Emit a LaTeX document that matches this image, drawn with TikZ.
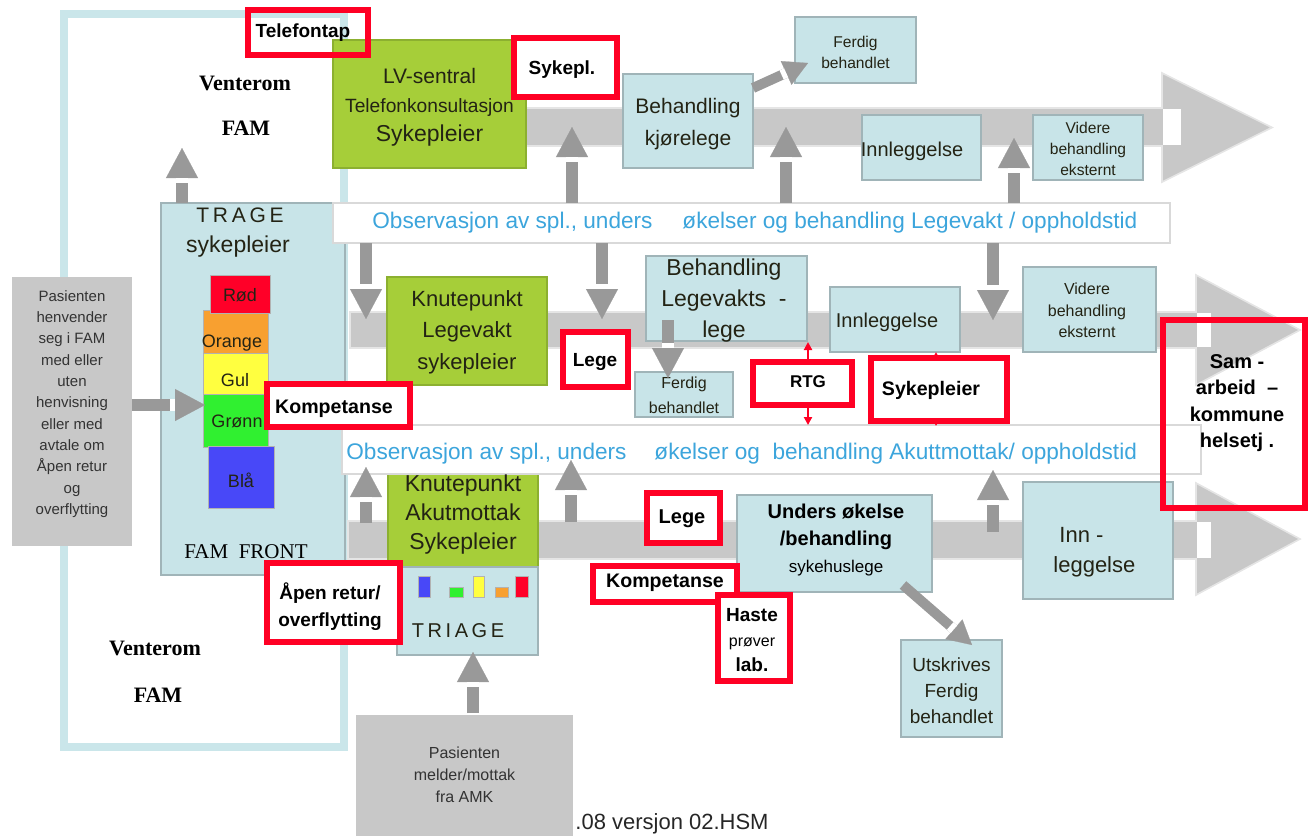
\documentclass[tikz,border=0pt]{standalone}
\usepackage{fontspec}
\setmainfont{Liberation Sans}
\newfontfamily\serifF{Liberation Serif}
\newfontfamily\spacedF[LetterSpace=18]{Liberation Sans}
\usetikzlibrary{arrows.meta,calc}
\newcommand\fsz[2]{\fontsize{#1}{#2}\selectfont}
\definecolor{lblue}{RGB}{200,228,232}
\definecolor{lbedge}{RGB}{160,180,184}
\definecolor{lgreen}{RGB}{166,206,57}
\definecolor{dgreen}{RGB}{140,176,48}
\definecolor{bandgray}{RGB}{200,200,200}
\definecolor{arrgray}{RGB}{153,153,153}
\definecolor{boxgray}{RGB}{200,200,200}
\definecolor{redb}{RGB}{255,0,36}
\definecolor{obstext}{RGB}{60,165,220}
\definecolor{frameblue}{RGB}{202,230,234}
\definecolor{cred}{RGB}{255,0,40}
\definecolor{corange}{RGB}{248,160,48}
\definecolor{cyellow}{RGB}{255,255,64}
\definecolor{cgreen}{RGB}{48,240,48}
\definecolor{cblue}{RGB}{72,72,248}
\definecolor{darktxt}{RGB}{35,35,20}
\newcommand\grar[2]{\draw[garr] #1 -- #2; \draw[white,line width=6pt] ($#2!15pt!#1$) -- ($#2!17.5pt!#1$);}
\newcommand\grars[2]{\draw[garrs] #1 -- #2; \draw[white,line width=5pt] ($#2!12pt!#1$) -- ($#2!14.5pt!#1$);}
\tikzset{
 lbbox/.style={draw=lbedge, fill=lblue, line width=1pt, inner sep=0pt},
 grbox/.style={draw=dgreen, fill=lgreen, line width=1pt, inner sep=0pt},
 gybox/.style={fill=boxgray, draw=none, inner sep=0pt},
 rbox/.style={draw=redb, line width=2.8pt, inner sep=0pt, fill=white},
 rboxo/.style={draw=redb, line width=2.8pt, inner sep=0pt},
 obsbox/.style={draw=black!15, line width=1pt, fill=white, inner sep=0pt},
 txt/.style={inner sep=0pt, align=center, text=darktxt},
 rtxt/.style={inner sep=0pt, align=center, text=black},
 cbox/.style={draw=black!30, line width=0.5pt, inner sep=0pt},
 garr/.style={draw=arrgray, line width=6pt, -{Triangle[width=16pt,length=15pt,line width=0.1pt]}},
 garrs/.style={draw=arrgray, line width=5pt, -{Triangle[width=13pt,length=12pt,line width=0.1pt]}},
 band/.style={fill=bandgray, draw=black!10, line width=0.8pt},
 redarr/.style={draw=redb, line width=1pt, -{Triangle[width=4pt,length=4pt]}},
}
\begin{document}
\begin{tikzpicture}[x=0.5pt,y=-0.5pt]
\useasboundingbox (0,0) rectangle (1309,836);
% frame
\node[draw=frameblue, line width=4pt, minimum width=140pt, minimum height=366.5pt, inner sep=0pt] (frame) at (204,380.5) {};
% bands
\path[band] (345,108) -- (1162,108) -- (1162,73) -- (1272,127.5) -- (1162,182) -- (1162,146) -- (345,146) -- cycle;
\fill[white] (1163,109) rectangle (1181,145);
\path[band] (350,312) -- (1196,312) -- (1196,275) -- (1300,330) -- (1196,385) -- (1196,348) -- (350,348) -- cycle;
\fill[white] (1197,313) rectangle (1211,347);
\path[band] (348,521) -- (1196,521) -- (1196,483) -- (1300,539) -- (1196,595) -- (1196,559) -- (348,559) -- cycle;
\fill[white] (1197,522) rectangle (1211,558);
% left structures
\node[gybox, minimum width=60pt, minimum height=134.5pt] (lgrey) at (72,411.5) {};
\node[txt, text=black!80, font={\fsz{7.5}{10.65}}] (lgreyt) at (72,404) {Pasienten\\henvender\\seg i FAM\\med eller\\uten\\henvisning\\eller med\\avtale om\\Åpen retur\\og\\overflytting};
\node[lbbox, minimum width=92pt, minimum height=186pt] (trage) at (253,389) {};
\node[txt, font={\spacedF\fsz{10.5}{12}}] (traget) at (240,215) {TRAGE};
\node[txt, font={\fsz{11.5}{13}}] (tragesp) at (238,247) {sykepleier};
\node[txt, text=black, font={\serifF\fsz{10.5}{12}}] (famfront) at (246,552) {FAM\ \ FRONT};
% colour stack
\node[cbox, fill=corange, minimum width=32.5pt, minimum height=21.5pt] (sora) at (235.5,331.5) {};
\node[cbox, fill=cyellow, minimum width=32.5pt, minimum height=20.5pt] (sgul) at (235.5,373.5) {};
\node[cbox, fill=cgreen, minimum width=32.5pt, minimum height=26.5pt] (sgro) at (235.5,420.5) {};
\node[cbox, fill=cred, minimum width=30pt, minimum height=19pt] (srod) at (240,294) {};
\node[cbox, fill=cblue, minimum width=33pt, minimum height=31pt] (sbla) at (241,477) {};
\node[txt, font={\fsz{9}{10}}] (trod) at (240,295) {Rød};
\node[txt, font={\fsz{9}{10}}] (tora) at (232,343) {Orange};
\node[txt, font={\fsz{9}{10}}] (tgul) at (235,380) {Gul};
\node[txt, font={\fsz{9}{10}}] (tgro) at (237,421) {Grønn};
\node[txt, font={\fsz{9}{10}}] (tbla) at (241,480) {Blå};
% green boxes
\node[grbox, minimum width=96.5pt, minimum height=64pt] (lv) at (429.5,104) {};
\node[txt, font={\fsz{10.5}{14.5}}] (lvt) at (429.5,107) {LV-sentral\\\fsz{9.6}{14.5}Telefonkonsultasjon\\\fsz{11.5}{15}Sykepleier};
\node[grbox, minimum width=80pt, minimum height=54pt] (knl) at (467,331) {};
\node[txt, font={\fsz{11}{15.75}}] (knlt) at (467,332) {Knutepunkt\\Legevakt\\sykepleier};
\node[grbox, minimum width=75pt, minimum height=52.5pt] (kna) at (463,514.5) {};
\node[lbbox, minimum width=70.5pt, minimum height=44pt] (triage) at (467.5,611) {};
\node[cbox, fill=cblue, minimum width=6pt, minimum height=10.5pt] (cb1) at (424,586.5) {};
\node[cbox, fill=cgreen, minimum width=7pt, minimum height=5pt] (cb2) at (456,592) {};
\node[cbox, fill=cyellow, minimum width=5.5pt, minimum height=10.5pt] (cb3) at (478.5,586.5) {};
\node[cbox, fill=corange, minimum width=6.5pt, minimum height=5pt] (cb4) at (501.5,592) {};
\node[cbox, fill=cred, minimum width=6.5pt, minimum height=10.5pt] (cb5) at (521.5,586.5) {};
\node[txt, font={\spacedF\fsz{10}{12}}] (triaget) at (458,631) {TRIAGE};
% light blue boxes
\node[lbbox, minimum width=65pt, minimum height=47pt] (behk) at (688,121) {};
\node[txt, font={\fsz{10.5}{16}}] (behkt) at (688,124) {Behandling\\kjørelege};
\node[lbbox, minimum width=60.5pt, minimum height=33pt] (ferd1) at (855.5,50) {};
\node[txt, font={\fsz{7.8}{10.5}}] (ferd1t) at (855.5,52.5) {Ferdig\\behandlet};
\node[lbbox, minimum width=59.5pt, minimum height=32.5pt] (inn1) at (921.5,147.5) {};
\node[txt, font={\fsz{10}{12}}] (inn1t) at (912,151) {Innleggelse};
\node[lbbox, minimum width=55pt, minimum height=32.5pt] (vid1) at (1088,147.5) {};
\node[txt, font={\fsz{7.8}{10.5}}] (vid1t) at (1088,149) {Videre\\behandling\\eksternt};
\node[lbbox, minimum width=80.5pt, minimum height=42.5pt] (behl) at (726.5,298.5) {};
\node[txt, font={\fsz{11.5}{15.5}}] (behlt) at (724,301) {Behandling\\Legevakts\ \ -\\lege};
\node[lbbox, minimum width=49pt, minimum height=22.5pt] (ferd2) at (684,394.5) {};
\node[txt, font={\fsz{8}{12.5}}] (ferd2t) at (684,395) {Ferdig\\behandlet};
\node[lbbox, minimum width=65pt, minimum height=32.5pt] (inn2) at (895,319.5) {};
\node[txt, font={\fsz{10}{12}}] (inn2t) at (887,322) {Innleggelse};
\node[lbbox, minimum width=66.5pt, minimum height=42.5pt] (vid2) at (1089.5,309.5) {};
\node[txt, font={\fsz{8}{10.75}}] (vid2t) at (1087,310.5) {Videre\\behandling\\eksternt};
\node[lbbox, minimum width=97.5pt, minimum height=48.5pt] (unders) at (834.5,543.5) {};
\node[txt, text=black, font={\bfseries\fsz{10}{13.5}}] (underst) at (836,540) {Unders økelse\\/behandling\\\mdseries\fsz{8.5}{13.5}sykehuslege};
\node[lbbox, minimum width=50.5pt, minimum height=48.5pt] (utskr) at (951.5,688.5) {};
\node[txt, font={\fsz{9.5}{13}}] (utskrt) at (951.5,691) {Utskrives\\Ferdig\\behandlet};
\node[lbbox, minimum width=75pt, minimum height=58.5pt] (inn3) at (1098,540.5) {};
\node[txt, align=left, anchor=west, font={\fsz{11}{15}}] (inn3t) at (1053,552) {\hspace{3pt}Inn -\\leggelse};
% bottom grey box
\node[gybox, minimum width=108.5pt, minimum height=60.5pt] (bgrey) at (464.5,775.5) {};
\node[txt, text=black!80, font={\fsz{8}{11}}] (bgreyt) at (464.5,775) {Pasienten\\melder/mottak\\fra AMK};
% observation strips
\node[obsbox, minimum width=418.5pt, minimum height=20pt] (obs1) at (751.5,223) {};
\node[inner sep=0pt, anchor=west, text=obstext, font={\fsz{11.3}{13}}] (obs1t) at (372,223) {Observasjon av spl., unders\hspace{15pt}økelser og behandling Legevakt / oppholdstid};
\node[obsbox, minimum width=429.5pt, minimum height=24.5pt] (obs2) at (771.5,449.5) {};
\node[inner sep=0pt, anchor=west, text=obstext, font={\fsz{11.3}{13}}] (obs2t) at (346,454) {Observasjon av spl., unders\hspace{14pt}økelser og\ \ behandling Akuttmottak/ oppholdstid};
\node[txt, font={\fsz{11.5}{14.5}}] (knat) at (463,515) {Knutepunkt\\Akutmottak\\Sykepleier};
% grey arrows
\coordinate (a1s) at (182,203); \coordinate (a1t) at (182,148);
\coordinate (a2s) at (572,203); \coordinate (a2t) at (572,127);
\coordinate (a3s) at (786,203); \coordinate (a3t) at (786,127);
\coordinate (a4s) at (1014,203); \coordinate (a4t) at (1014,138);
\coordinate (a5s) at (366,243); \coordinate (a5t) at (366,319);
\coordinate (a6s) at (602,243); \coordinate (a6t) at (602,319);
\coordinate (a7s) at (993,243); \coordinate (a7t) at (993,320);
\coordinate (a8s) at (366,523); \coordinate (a8t) at (366,467);
\coordinate (a9s) at (571,522); \coordinate (a9t) at (571,460);
\coordinate (a10s) at (993,532); \coordinate (a10t) at (993,470);
\coordinate (a11s) at (668,320); \coordinate (a11t) at (668,378);
\coordinate (a12s) at (132,405); \coordinate (a12t) at (205,405);
\coordinate (a13s) at (473,713); \coordinate (a13t) at (473,652);
\coordinate (a14s) at (753,88); \coordinate (a14t) at (808,63);
\coordinate (a15s) at (903,585); \coordinate (a15t) at (972,645);
\grar{(a1s)}{(a1t)}
\grar{(a2s)}{(a2t)}
\grar{(a3s)}{(a3t)}
\grar{(a4s)}{(a4t)}
\grar{(a5s)}{(a5t)}
\grar{(a6s)}{(a6t)}
\grar{(a7s)}{(a7t)}
\grar{(a8s)}{(a8t)}
\grar{(a9s)}{(a9t)}
\grar{(a10s)}{(a10t)}
\grar{(a11s)}{(a11t)}
\grar{(a12s)}{(a12t)}
\grar{(a13s)}{(a13t)}
\grars{(a14s)}{(a14t)}
\grars{(a15s)}{(a15t)}
% red boxes
\node[rboxo, minimum width=60pt, minimum height=22.5pt] (telef) at (308,32.5) {};
\node[rtxt, font={\bfseries\fsz{9.5}{11}}] (teleft) at (303,33) {Telefontap};
\node[rbox, minimum width=51.5pt, minimum height=29.5pt] (sykepl) at (565.5,67.5) {};
\node[rtxt, font={\bfseries\fsz{9.5}{11}}] (sykeplt) at (562,70) {Sykepl.};
\node[rbox, minimum width=71.5pt, minimum height=21.5pt] (komp1) at (338.5,405.5) {};
\node[rtxt, font={\bfseries\fsz{9.8}{11}}] (komp1t) at (334,409) {Kompetanse};
\node[rbox, minimum width=32.5pt, minimum height=27.5pt] (lege1) at (595.5,359.5) {};
\node[rtxt, font={\bfseries\fsz{9.5}{11}}] (lege1t) at (595,362) {Lege};
\node[rbox, minimum width=49.5pt, minimum height=21.5pt] (rtg) at (802.5,383.5) {};
\node[rtxt, font={\bfseries\fsz{8.5}{10}}] (rtgt) at (808,382) {RTG};
\node[rbox, minimum width=68pt, minimum height=31.5pt] (sykr) at (939,389.5) {};
\node[rtxt, font={\bfseries\fsz{9.8}{11}}] (sykrt) at (931,390) {Sykepleier};
\node[rboxo, minimum width=71pt, minimum height=94pt] (sam) at (1234,414) {};
\node[rtxt, font={\bfseries\fsz{10}{13.25}}] (samt) at (1237,403) {Sam -\\arbeid\ \ –\\kommune\\helsetj .};
\node[rbox, minimum width=36.5pt, minimum height=25pt] (lege2) at (683.5,518) {};
\node[rtxt, font={\bfseries\fsz{10}{11}}] (lege2t) at (682,519) {Lege};
\node[rbox, minimum width=72pt, minimum height=18pt] (komp2) at (665,584) {};
\node[rtxt, font={\bfseries\fsz{9.8}{11}}] (komp2t) at (665,583) {Kompetanse};
\node[rbox, minimum width=36pt, minimum height=43pt] (haste) at (754,638) {};
\node[rtxt, font={\bfseries\fsz{9.5}{12.5}}] (hastet) at (752,640) {Haste\\\mdseries\fsz{8}{12.5}prøver\\lab.};
\node[rbox, minimum width=66.5pt, minimum height=39.5pt] (apen) at (333.5,602.5) {};
\node[rtxt, font={\bfseries\fsz{9.5}{13.5}}] (apent) at (330,606.5) {Åpen retur/\\overflytting};
% small red arrows
\coordinate (r1t) at (808,342); \coordinate (r2t) at (808,425);
\coordinate (r3t) at (936,352); \coordinate (r4t) at (936,426);
\draw[redarr] (rtg.north -| r1t) -- (r1t);
\draw[redarr] (rtg.south -| r2t) -- (r2t);
\draw[redarr] (sykr.north -| r3t) -- (r3t);
\draw[redarr] (sykr.south -| r4t) -- (r4t);
% free texts
\node[txt, text=black, font={\serifF\bfseries\fsz{11}{13}}] (vent1) at (245,83) {Venterom};
\node[txt, text=black, font={\serifF\bfseries\fsz{11}{13}}] (fam1) at (246,128) {FAM};
\node[txt, text=black, font={\serifF\bfseries\fsz{11}{13}}] (vent2) at (155,648) {Venterom};
\node[txt, text=black, font={\serifF\bfseries\fsz{11}{13}}] (fam2) at (158,695) {FAM};
\node[inner sep=0pt, anchor=west, text=black!85, font={\fsz{11}{13}}] (vers) at (575,824) {.08 versjon 02.HSM};
\end{tikzpicture}
\end{document}
